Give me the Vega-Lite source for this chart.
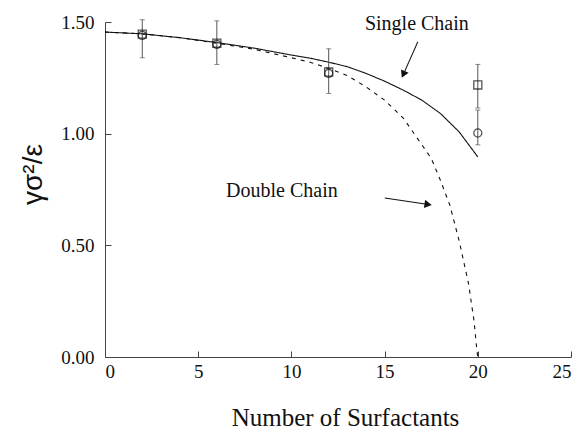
{
  "$schema": "https://vega.github.io/schema/vega-lite/v6.json",
  "width": 466,
  "height": 335,
  "autosize": {"type": "none"},
  "padding": {"left": 105, "top": 22, "right": 15, "bottom": 74},
  "background": "white",
  "config": {
    "font": "Liberation Serif",
    "view": {"stroke": null},
    "axis": {
      "grid": false,
      "domainColor": "#444",
      "domainWidth": 1,
      "tickColor": "#444",
      "labelColor": "#111",
      "titleColor": "#111",
      "labelFont": "Liberation Serif",
      "titleFont": "Liberation Serif",
      "titleFontWeight": "normal"
    },
    "text": {"font": "Liberation Serif"}
  },
  "datasets": {
    "curves": [
      {"series": "Single Chain", "N": 0, "y": 1.455},
      {"series": "Single Chain", "N": 2, "y": 1.447},
      {"series": "Single Chain", "N": 4, "y": 1.43},
      {"series": "Single Chain", "N": 6, "y": 1.408},
      {"series": "Single Chain", "N": 8, "y": 1.383},
      {"series": "Single Chain", "N": 10, "y": 1.352},
      {"series": "Single Chain", "N": 11, "y": 1.338},
      {"series": "Single Chain", "N": 12, "y": 1.32},
      {"series": "Single Chain", "N": 13, "y": 1.3},
      {"series": "Single Chain", "N": 14, "y": 1.27},
      {"series": "Single Chain", "N": 15, "y": 1.235},
      {"series": "Single Chain", "N": 16, "y": 1.195},
      {"series": "Single Chain", "N": 17, "y": 1.15},
      {"series": "Single Chain", "N": 18, "y": 1.09},
      {"series": "Single Chain", "N": 19, "y": 1.008},
      {"series": "Single Chain", "N": 20, "y": 0.896},
      {"series": "Double Chain", "N": 0, "y": 1.455},
      {"series": "Double Chain", "N": 2, "y": 1.447},
      {"series": "Double Chain", "N": 4, "y": 1.43},
      {"series": "Double Chain", "N": 6, "y": 1.405},
      {"series": "Double Chain", "N": 8, "y": 1.378},
      {"series": "Double Chain", "N": 10, "y": 1.34},
      {"series": "Double Chain", "N": 11, "y": 1.32},
      {"series": "Double Chain", "N": 12, "y": 1.292},
      {"series": "Double Chain", "N": 13, "y": 1.26},
      {"series": "Double Chain", "N": 14, "y": 1.21},
      {"series": "Double Chain", "N": 15, "y": 1.15},
      {"series": "Double Chain", "N": 16, "y": 1.07},
      {"series": "Double Chain", "N": 17, "y": 0.95},
      {"series": "Double Chain", "N": 17.5, "y": 0.89},
      {"series": "Double Chain", "N": 18, "y": 0.79},
      {"series": "Double Chain", "N": 18.5, "y": 0.68},
      {"series": "Double Chain", "N": 19, "y": 0.52},
      {"series": "Double Chain", "N": 19.5, "y": 0.33},
      {"series": "Double Chain", "N": 19.8, "y": 0.16},
      {"series": "Double Chain", "N": 19.95, "y": 0.03},
      {"series": "Double Chain", "N": 20, "y": 0.0}
    ],
    "points": [
      {"set": "squares", "N": 2, "y": 1.446},
      {"set": "squares", "N": 6, "y": 1.405},
      {"set": "squares", "N": 12, "y": 1.276},
      {"set": "squares", "N": 20, "y": 1.218},
      {"set": "circles", "N": 2, "y": 1.44},
      {"set": "circles", "N": 6, "y": 1.4},
      {"set": "circles", "N": 12, "y": 1.27},
      {"set": "circles", "N": 20, "y": 1.003}
    ],
    "errs": [
      {"N": 2, "lo": 1.34, "hi": 1.51},
      {"N": 6, "lo": 1.31, "hi": 1.505},
      {"N": 12, "lo": 1.18, "hi": 1.38},
      {"N": 20, "lo": 1.115, "hi": 1.31},
      {"N": 20, "lo": 0.95, "hi": 1.106}
    ],
    "labels": [
      {"label": "Single Chain", "N": 16.73, "y": 1.464},
      {"label": "Double Chain", "N": 9.49, "y": 0.716}
    ],
    "arrows": [
      {"label": "Single Chain", "N": 16.78, "y": 1.411, "N2": 16.03, "y2": 1.27},
      {"label": "Double Chain", "N": 15.01, "y": 0.712, "N2": 17.27, "y2": 0.684}
    ]
  },
  "layer": [
    {
      "data": {"name": "curves"},
      "mark": {"type": "line", "color": "#111", "strokeWidth": 1.1},
      "encoding": {
        "x": {
          "field": "N", "type": "quantitative",
          "scale": {"domain": [0, 25], "nice": false},
          "title": "Number of Surfactants",
          "axis": {
            "values": [0, 5, 10, 15, 20, 25],
            "format": "d",
            "tickSize": -6,
            "labelPadding": 11,
            "labelFont": "Liberation Serif",
            "labelFontSize": 19,
            "titleFont": "Liberation Serif",
            "titleFontSize": 25,
            "titleBaseline": "alphabetic",
            "titleY": 68,
            "titleX": 240
          }
        },
        "y": {
          "field": "y", "type": "quantitative",
          "scale": {"domain": [0, 1.5], "nice": false},
          "title": "γσ²/ε",
          "axis": {
            "values": [0, 0.5, 1, 1.5],
            "format": ".2f",
            "tickSize": -6,
            "labelPadding": 17,
            "labelFont": "Liberation Serif",
            "labelFontSize": 19,
            "titleFont": "Liberation Sans",
            "titleFontSize": 28,
            "titleAngle": -90,
            "titleBaseline": "middle",
            "titleAlign": "center",
            "titleX": -72,
            "titleY": 152
          }
        },
        "strokeDash": {
          "field": "series", "type": "nominal",
          "scale": {"domain": ["Single Chain", "Double Chain"], "range": [[1, 0], [4, 5]]},
          "legend": null
        }
      }
    },
    {
      "data": {"name": "errs"},
      "mark": {"type": "errorbar", "color": "#555", "thickness": 1, "ticks": {"size": 5, "color": "#555"}},
      "encoding": {
        "x": {"field": "N", "type": "quantitative", "scale": {"domain": [0, 25], "nice": false}, "title": "Number of Surfactants"},
        "y": {"field": "lo", "type": "quantitative", "scale": {"domain": [0, 1.5], "nice": false}, "title": "γσ²/ε"},
        "y2": {"field": "hi"}
      }
    },
    {
      "data": {"name": "points"},
      "mark": {"type": "point", "filled": false, "stroke": "#111", "strokeWidth": 1.3, "size": 65},
      "encoding": {
        "x": {"field": "N", "type": "quantitative", "scale": {"domain": [0, 25], "nice": false}, "title": "Number of Surfactants"},
        "y": {"field": "y", "type": "quantitative", "scale": {"domain": [0, 1.5], "nice": false}, "title": "γσ²/ε"},
        "shape": {
          "field": "set", "type": "nominal",
          "scale": {"domain": ["squares", "circles"], "range": ["square", "circle"]},
          "legend": null
        }
      }
    },
    {
      "data": {"name": "labels"},
      "mark": {"type": "text", "font": "Liberation Serif", "fontSize": 20, "align": "center", "baseline": "alphabetic", "color": "#111"},
      "encoding": {
        "x": {"field": "N", "type": "quantitative", "scale": {"domain": [0, 25], "nice": false}, "title": "Number of Surfactants"},
        "y": {"field": "y", "type": "quantitative", "scale": {"domain": [0, 1.5], "nice": false}, "title": "γσ²/ε"},
        "text": {"field": "label"}
      }
    },
    {
      "data": {"name": "arrows"},
      "mark": {"type": "rule", "color": "#111", "strokeWidth": 1.1},
      "encoding": {
        "x": {"field": "N", "type": "quantitative", "scale": {"domain": [0, 25], "nice": false}, "title": "Number of Surfactants"},
        "y": {"field": "y", "type": "quantitative", "scale": {"domain": [0, 1.5], "nice": false}, "title": "γσ²/ε"},
        "x2": {"field": "N2"},
        "y2": {"field": "y2"}
      }
    },
    {
      "data": {"name": "arrows"},
      "transform": [{"filter": "datum.label === 'Single Chain'"}],
      "mark": {"type": "point", "shape": "triangle", "filled": true, "color": "#111", "size": 70, "angle": 204, "opacity": 1},
      "encoding": {
        "x": {"field": "N2", "type": "quantitative", "scale": {"domain": [0, 25], "nice": false}, "title": "Number of Surfactants"},
        "y": {"field": "y2", "type": "quantitative", "scale": {"domain": [0, 1.5], "nice": false}, "title": "γσ²/ε"}
      }
    },
    {
      "data": {"name": "arrows"},
      "transform": [{"filter": "datum.label === 'Double Chain'"}],
      "mark": {"type": "point", "shape": "triangle", "filled": true, "color": "#111", "size": 70, "angle": 98.5, "opacity": 1},
      "encoding": {
        "x": {"field": "N2", "type": "quantitative", "scale": {"domain": [0, 25], "nice": false}, "title": "Number of Surfactants"},
        "y": {"field": "y2", "type": "quantitative", "scale": {"domain": [0, 1.5], "nice": false}, "title": "γσ²/ε"}
      }
    }
  ]
}
